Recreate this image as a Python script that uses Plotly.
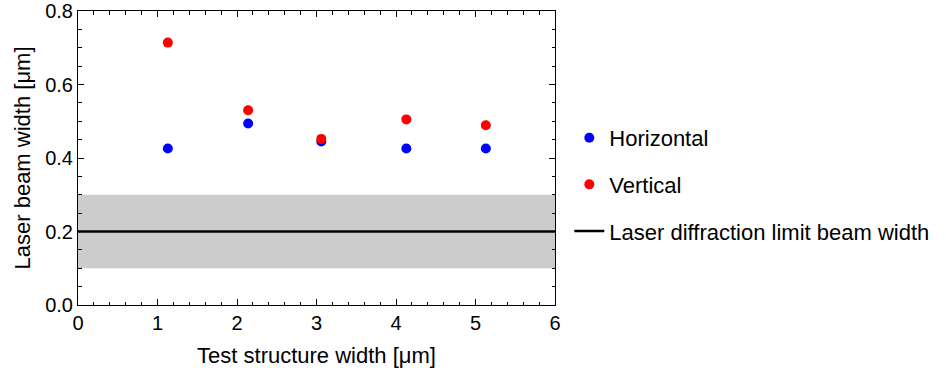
import plotly.graph_objects as go

x_pos = [1.13, 2.14, 3.06, 4.13, 5.13]
horizontal = [0.426, 0.494, 0.445, 0.426, 0.426]
vertical = [0.714, 0.530, 0.452, 0.505, 0.489]
limit_x = [0, 6]
limit_y = [0.2, 0.2]
band_low = [0.1, 0.1]
band_high = [0.3, 0.3]

FONT = "Liberation Sans, Arial, sans-serif"

fig = go.Figure()
fig.add_trace(go.Scatter(x=limit_x, y=band_low, mode="lines", line=dict(width=0),
                         showlegend=False, hoverinfo="skip"))
fig.add_trace(go.Scatter(x=limit_x, y=band_high, mode="lines", line=dict(width=0),
                         fill="tonexty", fillcolor="#cccccc", showlegend=False, hoverinfo="skip"))
fig.add_trace(go.Scatter(x=x_pos, y=horizontal, mode="markers", name="Horizontal",
                         marker=dict(color="#0000ff", size=10), legendgroup="a"))
fig.add_trace(go.Scatter(x=x_pos, y=vertical, mode="markers", name="Vertical",
                         marker=dict(color="#ff0000", size=10), legendgroup="b"))
fig.add_trace(go.Scatter(x=limit_x, y=limit_y, mode="lines",
                         name="Laser diffraction limit beam width",
                         line=dict(color="black", width=2.5), legendgroup="c"))

axis_common = dict(
    showline=True, linecolor="black", linewidth=1, mirror="allticks",
    ticks="inside", ticklen=6, tickwidth=1, tickcolor="black",
    showgrid=False, zeroline=False, ticklabeloverflow="allow", automargin=False,
    tickfont=dict(family=FONT, size=20, color="black"),
)

fig.update_xaxes(range=[0, 6], dtick=1, tickformat="d",
                 minor=dict(dtick=0.2, ticks="inside", ticklen=3.5, tickcolor="black", showgrid=False),
                 title=dict(text="Test structure width [μm]", font=dict(family=FONT, size=22, color="black"), standoff=14),
                 **axis_common)
fig.update_yaxes(range=[0, 0.8], dtick=0.2, tickformat=".1f",
                 minor=dict(dtick=0.05, ticks="inside", ticklen=3.5, tickcolor="black", showgrid=False),
                 title=dict(text="Laser beam width [μm]", font=dict(family=FONT, size=22, color="black"), standoff=8),
                 **axis_common)

fig.update_layout(
    width=946, height=376,
    margin=dict(l=78, r=391, t=11, b=71),
    plot_bgcolor="white", paper_bgcolor="white",
    font=dict(family=FONT, size=22, color="black"),
    legend=dict(x=1.03, y=0.41, xanchor="left", yanchor="middle",
                font=dict(family=FONT, size=22, color="black"),
                tracegroupgap=15, traceorder="grouped", bgcolor="rgba(0,0,0,0)"),
)

fig.write_html("out.html")
